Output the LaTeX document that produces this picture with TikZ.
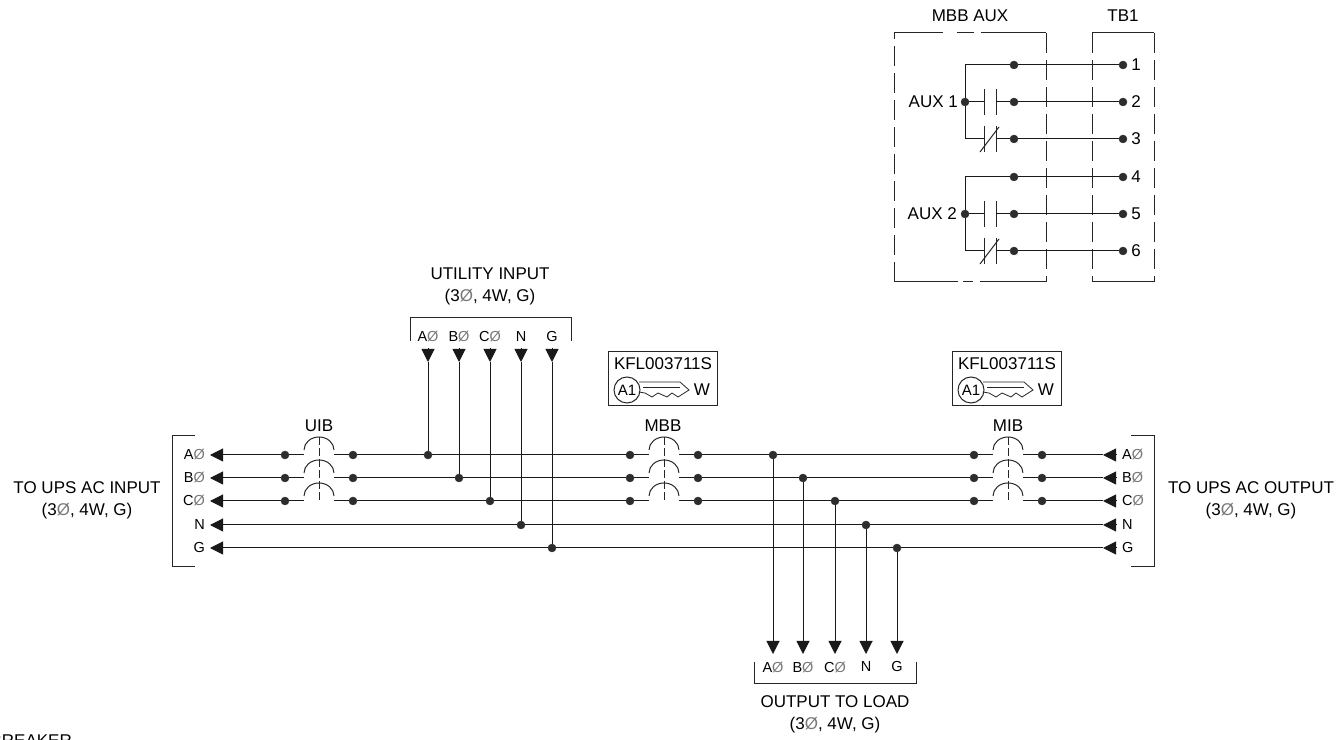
\documentclass[tikz,border=0pt]{standalone}
\usepackage{fontspec}
\setmainfont{Liberation Sans}
\usepackage{tikz}
\usetikzlibrary{arrows.meta,positioning}
\usepackage{xcolor}
\definecolor{dfdot}{RGB}{45,45,45}
\definecolor{dfslash}{RGB}{120,120,120}
\newcommand{\phsym}{{\color{dfslash}Ø}}
\tikzstyle{wire} = [line width=1pt, color=black!90]
\tikzstyle{tipped} = [wire, -{Triangle[length=13pt,width=13pt]}]
\tikzstyle{frame} = [line width=1pt, color=black!85]
\tikzstyle{longdash} = [frame, dash pattern=on 20pt off 7pt]
\tikzstyle{dot} = [circle, fill=dfdot, draw=dfdot, minimum size=8pt, inner sep=0pt]
\tikzstyle{biglabel} = [inner sep=0pt, align=center, font=\fontsize{17}{22}\selectfont]
\tikzstyle{smalllabel} = [inner sep=0pt, font=\fontsize{14.5}{17}\selectfont]
% breaker: name, centre x
\newcommand{\breaker}[2]{
\node (#1A1) [dot] at (#2-34,284) {};
\node (#1B1) [dot, below of=#1A1, node distance=23pt] {};
\node (#1C1) [dot, below of=#1B1, node distance=23pt] {};
\node (#1A2) [dot] at (#2+34,284) {};
\node (#1B2) [dot, below of=#1A2, node distance=23pt] {};
\node (#1C2) [dot, below of=#1B2, node distance=23pt] {};
\draw[wire] (#1A1) -- (#2-15,284) (#2+15,284) -- (#1A2);
\draw[wire] (#1B1) -- (#2-15,261) (#2+15,261) -- (#1B2);
\draw[wire] (#1C1) -- (#2-15,238) (#2+15,238) -- (#1C2);
\draw[frame] (#2-15,289) arc[start angle=180, end angle=0, x radius=15pt, y radius=13pt];
\draw[frame] (#2-15,266) arc[start angle=180, end angle=0, x radius=15pt, y radius=13pt];
\draw[frame] (#2-15,243) arc[start angle=180, end angle=0, x radius=15pt, y radius=13pt];
\draw[frame, dash pattern=on 8pt off 3pt] (#2,302) -- (#2,239);
}
% key tag: name, centre x
\newcommand{\keytag}[2]{
\node (#1box) [draw, frame, minimum width=109pt, minimum height=54pt] at (#2,360) {};
\node (#1part) [biglabel] at (#2,375) {KFL003711S};
\node (#1ring) [circle, draw, frame, minimum size=26pt, inner sep=0pt, text=black, font=\fontsize{15}{17}\selectfont] at (#2-36,349) {A1};
\node (#1w) [biglabel] at (#2+39,349) {W};
\draw[frame, line width=0.8pt] (#2-24,357) -- (#2+17,357) -- (#2+26,349) -- (#2+15,342) -- (#2+9,346) -- (#2+4,342) -- (#2-5,346) -- (#2-11,342) -- (#2-18,346) -- (#2-24,347);
\draw[frame, line width=0.8pt] (#2-20,352) -- (#2+17,352);
}
% contact: name, y
\newcommand{\contact}[2]{
\coordinate (#1l) at (984,#2);
\coordinate (#1r) at (996,#2);
\draw[frame] (984,#2-13) -- (984,#2+13);
\draw[frame] (996,#2-13) -- (996,#2+13);
}
\begin{document}
\begin{tikzpicture}[x=1pt, y=1pt]
\useasboundingbox (0,0) rectangle (1336,739);

% Breakers
\breaker{uib}{319}
\breaker{mbb}{664}
\breaker{mib}{1008}
\node (uiblabel) [biglabel] at (319,313) {UIB};
\node (mbblabel) [biglabel] at (663,313) {MBB};
\node (miblabel) [biglabel] at (1008,313) {MIB};
\keytag{mbbkey}{663}
\keytag{mibkey}{1007}

% Junctions on the bus
\node (inA) [dot] at (428,284) {};
\node (inB) [dot] at (459,261) {};
\node (inC) [dot] at (490,238) {};
\node (inN) [dot] at (521,214) {};
\node (inG) [dot] at (552,191) {};
\node (outA) [dot] at (773,284) {};
\node (outB) [dot] at (803,261) {};
\node (outC) [dot] at (835,238) {};
\node (outN) [dot] at (866,214) {};
\node (outG) [dot] at (897,191) {};

% Left side
\coordinate (upsA) at (210,284);
\coordinate (upsB) at (210,261);
\coordinate (upsC) at (210,238);
\coordinate (upsN) at (210,214);
\coordinate (upsG) at (210,191);
\node (upsAlabel) [smalllabel, anchor=east] at (205,284) {A\phsym};
\node (upsBlabel) [smalllabel, anchor=east] at (205,261) {B\phsym};
\node (upsClabel) [smalllabel, anchor=east] at (205,238) {C\phsym};
\node (upsNlabel) [smalllabel, anchor=east] at (205,214) {N};
\node (upsGlabel) [smalllabel, anchor=east] at (205,191) {G};
\draw[frame] (195,303) -- (172,303) -- (172,172) -- (195,172);
\node (upsin) [biglabel] at (87,239) {TO UPS AC INPUT\\(3\phsym, 4W, G)};

% Right side
\coordinate (retA) at (1116,284);
\coordinate (retB) at (1116,261);
\coordinate (retC) at (1116,238);
\coordinate (retN) at (1116,214);
\coordinate (retG) at (1116,191);
\coordinate (retAtip) at (1103,284);
\coordinate (retBtip) at (1103,261);
\coordinate (retCtip) at (1103,238);
\coordinate (retNtip) at (1103,214);
\coordinate (retGtip) at (1103,191);
\node (retAlabel) [smalllabel, anchor=west] at (1122,284) {A\phsym};
\node (retBlabel) [smalllabel, anchor=west] at (1122,261) {B\phsym};
\node (retClabel) [smalllabel, anchor=west] at (1122,238) {C\phsym};
\node (retNlabel) [smalllabel, anchor=west] at (1122,214) {N};
\node (retGlabel) [smalllabel, anchor=west] at (1122,191) {G};
\draw[frame] (1131,303) -- (1154,303) -- (1154,172) -- (1131,172);
\node (upsout) [biglabel] at (1251,239) {TO UPS AC OUTPUT\\(3\phsym, 4W, G)};

% Bus wires
\draw[tipped] (uibA1) -- (upsA);
\draw[tipped] (uibB1) -- (upsB);
\draw[tipped] (uibC1) -- (upsC);
\draw[wire] (uibA2) -- (inA) -- (mbbA1);
\draw[wire] (uibB2) -- (inB) -- (mbbB1);
\draw[wire] (uibC2) -- (inC) -- (mbbC1);
\draw[wire] (mbbA2) -- (outA) -- (mibA1);
\draw[wire] (mbbB2) -- (outB) -- (mibB1);
\draw[wire] (mbbC2) -- (outC) -- (mibC1);
\draw[tipped] (retA) -- (retAtip);
\draw[tipped] (retB) -- (retBtip);
\draw[tipped] (retC) -- (retCtip);
\draw[tipped] (retN) -- (retNtip);
\draw[tipped] (retG) -- (retGtip);
\draw[wire] (retAtip) -- (mibA2);
\draw[wire] (retBtip) -- (mibB2);
\draw[wire] (retCtip) -- (mibC2);
\draw[wire] (retNtip) -- (outN);
\draw[wire] (retGtip) -- (outG);
\draw[wire] (outN) -- (inN);
\draw[wire] (outG) -- (inG);
\draw[tipped] (inN) -- (upsN);
\draw[tipped] (inG) -- (upsG);

% Utility input
\node (utilAlabel) [smalllabel] at (428,402) {A\phsym};
\node (utilBlabel) [smalllabel] at (459,402) {B\phsym};
\node (utilClabel) [smalllabel] at (490,402) {C\phsym};
\node (utilNlabel) [smalllabel] at (521,402) {N};
\node (utilGlabel) [smalllabel] at (552,402) {G};
\coordinate (utilA) at (428,391);
\coordinate (utilB) at (459,391);
\coordinate (utilC) at (490,391);
\coordinate (utilN) at (521,391);
\coordinate (utilG) at (552,391);
\coordinate (utilAtip) at (428,377);
\coordinate (utilBtip) at (459,377);
\coordinate (utilCtip) at (490,377);
\coordinate (utilNtip) at (521,377);
\coordinate (utilGtip) at (552,377);
\draw[tipped] (utilA) -- (utilAtip);
\draw[tipped] (utilB) -- (utilBtip);
\draw[tipped] (utilC) -- (utilCtip);
\draw[tipped] (utilN) -- (utilNtip);
\draw[tipped] (utilG) -- (utilGtip);
\draw[wire] (utilAtip) -- (inA);
\draw[wire] (utilBtip) -- (inB);
\draw[wire] (utilCtip) -- (inC);
\draw[wire] (utilNtip) -- (inN);
\draw[wire] (utilGtip) -- (inG);
\draw[frame] (410,398) -- (410,421) -- (571,421) -- (571,398);
\node (utillabel) [biglabel] at (490,453) {UTILITY INPUT\\(3\phsym, 4W, G)};

% Output to load
\coordinate (loadA) at (773,85);
\coordinate (loadB) at (803,85);
\coordinate (loadC) at (835,85);
\coordinate (loadN) at (866,85);
\coordinate (loadG) at (897,85);
\draw[tipped] (outA) -- (loadA);
\draw[tipped] (outB) -- (loadB);
\draw[tipped] (outC) -- (loadC);
\draw[tipped] (outN) -- (loadN);
\draw[tipped] (outG) -- (loadG);
\node (loadAlabel) [smalllabel] at (773,72) {A\phsym};
\node (loadBlabel) [smalllabel] at (803,72) {B\phsym};
\node (loadClabel) [smalllabel] at (835,72) {C\phsym};
\node (loadNlabel) [smalllabel] at (866,72) {N};
\node (loadGlabel) [smalllabel] at (897,72) {G};
\draw[frame] (754,77) -- (754,55) -- (916,55) -- (916,77);
\node (loadlabel) [biglabel] at (835,25) {OUTPUT TO LOAD\\(3\phsym, 4W, G)};

% Aux box
\node (auxlabel) [biglabel] at (970,723) {MBB AUX};
\node (tblabel) [biglabel] at (1123,723) {TB1};
\draw[longdash] (894,457) -- (894,706);
\draw[frame] (894,706) -- (943,706);
\draw[frame] (957,706) -- (974,706);
\draw[frame] (981,706) -- (1046,706);
\draw[longdash] (1046,706) -- (1046,457);
\draw[frame] (894,457) -- (958,457);
\draw[frame] (963,457) -- (973,457);
\draw[frame] (980,457) -- (1046,457);
\draw[longdash] (1092,706) -- (1092,457);
\draw[longdash] (1154,706) -- (1154,457);
\draw[frame] (1092,706) -- (1154,706);
\draw[frame] (1092,457) -- (1154,457);

% Aux contacts
\node (aux1) [dot] at (965,637) {};
\node (aux2) [dot] at (965,525) {};
\node (aux1label) [biglabel, anchor=east] at (958,637) {AUX 1};
\node (aux2label) [biglabel, anchor=east] at (957,525) {AUX 2};
\node (com1) [dot] at (1014,674) {};
\node (no1) [dot] at (1014,637) {};
\node (nc1) [dot] at (1014,600) {};
\node (com2) [dot] at (1014,562) {};
\node (no2) [dot] at (1014,525) {};
\node (nc2) [dot] at (1014,488) {};
\node (tb1) [dot] at (1123,674) {};
\node (tb2) [dot] at (1123,637) {};
\node (tb3) [dot] at (1123,600) {};
\node (tb4) [dot] at (1123,562) {};
\node (tb5) [dot] at (1123,525) {};
\node (tb6) [dot] at (1123,488) {};
\node (tb1label) [biglabel, right of=tb1, node distance=13pt] {1};
\node (tb2label) [biglabel, right of=tb2, node distance=13pt] {2};
\node (tb3label) [biglabel, right of=tb3, node distance=13pt] {3};
\node (tb4label) [biglabel, right of=tb4, node distance=13pt] {4};
\node (tb5label) [biglabel, right of=tb5, node distance=13pt] {5};
\node (tb6label) [biglabel, right of=tb6, node distance=13pt] {6};
\contact{no1c}{637}
\contact{nc1c}{600}
\contact{no2c}{525}
\contact{nc2c}{488}
\draw[frame] (980,587) -- (999,612);
\draw[frame] (980,475) -- (999,500);
\draw[wire] (aux1) |- (com1);
\draw[wire] (aux1) -- (no1cl);
\draw[wire] (aux1) |- (nc1cl);
\draw[wire] (no1cr) -- (no1);
\draw[wire] (nc1cr) -- (nc1);
\draw[wire] (aux2) |- (com2);
\draw[wire] (aux2) -- (no2cl);
\draw[wire] (aux2) |- (nc2cl);
\draw[wire] (no2cr) -- (no2);
\draw[wire] (nc2cr) -- (nc2);
\draw[wire] (com1) -- (tb1);
\draw[wire] (no1) -- (tb2);
\draw[wire] (nc1) -- (tb3);
\draw[wire] (com2) -- (tb4);
\draw[wire] (no2) -- (tb5);
\draw[wire] (nc2) -- (tb6);

% Cut off at the page edge
\node (cutlabel) [biglabel, anchor=base east] at (72,-7) {BREAKER};
\end{tikzpicture}
\end{document}
